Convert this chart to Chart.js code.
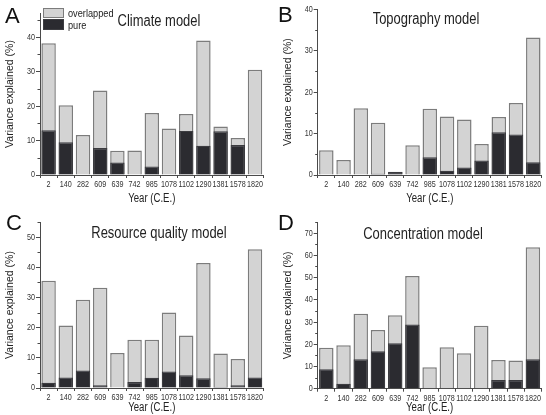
<!DOCTYPE html>
<html><head><meta charset="utf-8">
<script src="https://cdn.jsdelivr.net/npm/chart.js@4"></script>
<style>
body{margin:0;background:#fff;width:546px;height:415px;position:relative;overflow:hidden;font-family:'Liberation Sans',Arial,sans-serif;color:#222}
.panel{position:absolute;width:273px}
.panel canvas{position:absolute;left:0;top:0}
.lbl{position:absolute;font-size:22px;line-height:1;color:#111}
.ttl{position:absolute;font-size:16px;line-height:16px;white-space:nowrap;transform:translate(-50%,-50%) scaleX(0.81);color:#222}
.lg{position:absolute;box-sizing:border-box}
.lgt{position:absolute;font-size:11.5px;line-height:11px;white-space:nowrap;transform-origin:0 50%;transform:translateY(-50%) scaleX(0.8);color:#222}
</style>
</head><body>
<script>
// ---- data ----
const years = ['2','140','282','609','639','742','985','1078','1102','1290','1381','1578','1820'];
const climateTotal  = [38.2, 20.2, 11.6, 24.5, 7.0, 7.1, 18.0, 13.5, 17.7, 39.0, 14.1, 10.7, 30.5];
const climatePure   = [13.0,  9.5,  0,    7.8, 3.6, 0,    2.5,  0,   12.8,  8.5, 12.7,  8.7,  0];
const topoTotal     = [6.0, 3.6, 16.1, 12.6, 0.8, 7.2, 16.0, 14.1, 13.4, 7.5, 14.0, 17.4, 33.2];
const topoPure      = [0,   0,    0,    0.3, 0.7, 0,    4.3,  1.0,  1.8, 3.5, 10.3,  9.8,  3.1];
const resourceTotal = [35.5, 20.7, 29.2, 33.2, 11.6, 16.0, 16.0, 25.0, 17.4, 41.4, 11.4, 9.6, 46.0];
const resourcePure  = [1.7,  3.5,  5.8,  0.9,  0.2,  2.0,  3.4,  5.5,  4.2,  3.2,  0.3, 0.9,  3.5];
const concTotal     = [18.4, 19.5, 33.7, 26.4, 33.1, 50.7, 9.7, 18.6, 15.9, 28.3, 12.9, 12.7, 63.6];
const concPure      = [8.8,  2.2, 13.2, 16.9, 20.5, 28.9, 0,    0,    0,    0,    3.9,  3.9, 13.2];
const seriesNames = ['overlapped', 'pure'];
const axisX = 'Year (C.E.)';
const axisY = 'Variance explained (%)';

const AX = '#4a4a4a';
const GRAY = '#d3d3d3', GRAYB = '#7c7c7c', DARK = '#2b2b30', DARKB = '#3c3c40';
const FONT = "'Liberation Sans',Arial,sans-serif";

// horizontal text in the reference is condensed; squeeze unrotated canvas text
const squeeze = {
  id: 'squeeze',
  beforeDraw(chart) {
    const ctx = chart.ctx;
    if (ctx._sq) return;
    ctx._sq = true;
    const proto = CanvasRenderingContext2D.prototype.fillText;
    ctx.fillText = function (text, x, y, mw) {
      const t = this.getTransform();
      if (Math.abs(t.b) < 1e-6) {
        const w = this.measureText(text).width * 0.8;
        mw = (mw === undefined) ? w : Math.min(mw, w);
        return proto.call(this, text, x, y, mw);
      }
      return mw === undefined ? proto.call(this, text, x, y) : proto.call(this, text, x, y, mw);
    };
  }
};

const minorTicks = {
  id: 'minorTicks',
  afterDraw(chart) {
    const y = chart.scales.y, ctx = chart.ctx;
    ctx.save();
    ctx.strokeStyle = AX; ctx.lineWidth = 1;
    for (let v = 5; v <= y.max + 0.01; v += 10) {
      const py = Math.round(y.getPixelForValue(v)) + 0.5;
      ctx.beginPath(); ctx.moveTo(y.right - 2.5, py); ctx.lineTo(y.right, py); ctx.stroke();
    }
    ctx.restore();
  }
};

function addPanel(cfg) {
  const div = document.createElement('div');
  div.className = 'panel';
  div.style.left = cfg.x + 'px'; div.style.top = cfg.y + 'px'; div.style.height = cfg.h + 'px';
  document.body.appendChild(div);
  const cv = document.createElement('canvas');
  cv.width = 273; cv.height = cfg.h;
  cv.style.width = '273px'; cv.style.height = cfg.h + 'px';
  div.appendChild(cv);
  const l = document.createElement('div');
  l.className = 'lbl'; l.textContent = cfg.letter;
  l.style.left = cfg.lx + 'px'; l.style.top = cfg.ly + 'px';
  div.appendChild(l);
  const t = document.createElement('div');
  t.className = 'ttl'; t.textContent = cfg.title;
  t.style.left = cfg.tx + 'px'; t.style.top = cfg.ty + 'px';
  div.appendChild(t);

  new Chart(cv, {
    type: 'bar',
    data: {
      labels: years,
      datasets: [
        { label: seriesNames[1], data: cfg.pure, backgroundColor: DARK, borderColor: DARKB, borderWidth: 1.2,
          categoryPercentage: 1, barPercentage: 0.84 },
        { label: seriesNames[0], data: cfg.total, backgroundColor: GRAY, borderColor: GRAYB, borderWidth: 1.5,
          categoryPercentage: 1, barPercentage: 0.84 }
      ]
    },
    options: {
      responsive: false, animation: false, maintainAspectRatio: false,
      layout: { padding: { left: 0, right: cfg.rp, top: cfg.top, bottom: 0 } },
      plugins: { legend: { display: false }, tooltip: { enabled: false } },
      scales: {
        x: {
          stacked: true,
          afterFit: s => { s.height = cfg.xh; },
          border: { display: true, color: AX, width: 1 },
          grid: { display: true, drawOnChartArea: false, drawTicks: true, tickLength: 3, color: AX, offset: true },
          ticks: { autoSkip: false, maxRotation: 0, minRotation: 0, padding: 1, color: '#333',
                   font: { family: FONT, size: 9 } },
          title: { display: true, text: axisX, color: '#222', font: { family: FONT, size: 12 },
                   padding: { top: 0, bottom: cfg.xtp } }
        },
        y: {
          stacked: false, min: 0, max: cfg.max,
          afterFit: s => { s.width = cfg.left; },
          border: { display: true, color: AX, width: 1 },
          grid: { display: true, drawOnChartArea: false, drawTicks: true, tickLength: 4, color: AX },
          ticks: { stepSize: 10, includeBounds: false, padding: 1, color: '#333',
                   font: { family: FONT, size: 9 } },
          title: { display: true, text: axisY, color: '#222', font: { family: FONT, size: 10.5 },
                   padding: { top: cfg.ytp, bottom: 0 } }
        }
      }
    },
    plugins: [squeeze, minorTicks]
  });
  return div;
}

const pA = addPanel({ x: 0, y: 0, h: 207, letter: 'A', lx: 5, ly: 5, title: 'Climate model', tx: 159, ty: 21,
  total: climateTotal, pure: climatePure, max: 47, left: 40, rp: 9.4, top: 13, xh: 32, xtp: 1, ytp: 3.7 });
addPanel({ x: 273, y: 0, h: 207, letter: 'B', lx: 5, ly: 4, title: 'Topography model', tx: 153, ty: 19,
  total: topoTotal, pure: topoPure, max: 40, left: 44.7, rp: 4.1, top: 9.3, xh: 32, xtp: 1, ytp: 8.7 });
addPanel({ x: 0, y: 207, h: 208, letter: 'C', lx: 6, ly: 5, title: 'Resource quality model', tx: 159, ty: 26,
  total: resourceTotal, pure: resourcePure, max: 55, left: 40, rp: 9.4, top: 15, xh: 27, xtp: 0, ytp: 3.7 });
addPanel({ x: 273, y: 207, h: 208, letter: 'D', lx: 5, ly: 5, title: 'Concentration model', tx: 150, ty: 27,
  total: concTotal, pure: concPure, max: 75, left: 44.7, rp: 4.5, top: 15, xh: 26.3, xtp: 0, ytp: 8.7 });

// legend in panel A
function lgBox(parent, x, y, w, h, bg, bd) {
  const b = document.createElement('div'); b.className = 'lg';
  Object.assign(b.style, { left: x + 'px', top: y + 'px', width: w + 'px', height: h + 'px', background: bg, border: '1.5px solid ' + bd });
  parent.appendChild(b);
}
function lgText(parent, x, y, s) {
  const t = document.createElement('div'); t.className = 'lgt'; t.textContent = s;
  t.style.left = x + 'px'; t.style.top = y + 'px'; parent.appendChild(t);
}
lgBox(pA, 43, 7.5, 21, 10, GRAY, GRAYB);
lgBox(pA, 43, 19, 21, 11, DARK, DARKB);
lgText(pA, 68, 12.5, seriesNames[0]);
lgText(pA, 68, 25, seriesNames[1]);
</script>
</body></html>
